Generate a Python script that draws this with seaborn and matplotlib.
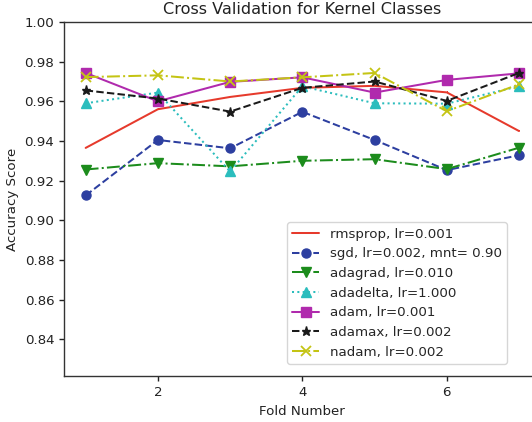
import matplotlib
matplotlib.use("Agg")
import matplotlib.pyplot as plt
import seaborn as sns

folds = [1, 2, 3, 4, 5, 6, 7]
labels = ["rmsprop, lr=0.001", "sgd, lr=0.002, mnt= 0.90", "adagrad, lr=0.010",
          "adadelta, lr=1.000", "adam, lr=0.001", "adamax, lr=0.002", "nadam, lr=0.002"]
rmsprop = [0.9365, 0.9560, 0.9622, 0.9668, 0.9678, 0.9645, 0.9450]
sgd = [0.9125, 0.9405, 0.9363, 0.9547, 0.9405, 0.9253, 0.9328]
adagrad = [0.9256, 0.9288, 0.9272, 0.9300, 0.9308, 0.9258, 0.9366]
adadelta = [0.9590, 0.9644, 0.9246, 0.9676, 0.9590, 0.9588, 0.9676]
adam = [0.9743, 0.9600, 0.9698, 0.9721, 0.9644, 0.9708, 0.9741]
adamax = [0.9655, 0.9614, 0.9548, 0.9668, 0.9700, 0.9602, 0.9743]
nadam = [0.9722, 0.9731, 0.9700, 0.9721, 0.9743, 0.9550, 0.9686]
series = [rmsprop, sgd, adagrad, adadelta, adam, adamax, nadam]

colors = ["#e63a2c", "#2d3fa0", "#1c8c1c", "#2bbdbd", "#b02aad", "#1a1a1a", "#c4c414"]
styles = ["-", "--", "-.", ":", "-", "--", "-."]
markers = [",", "o", "v", "^", "s", "*", "x"]
msizes = [2, 6.5, 6.5, 6.5, 6.5, 6.5, 6.5]

sns.set_style("ticks")
plt.rcParams["font.family"] = ["DejaVu Sans"]

fig = plt.figure(figsize=(5.32, 4.22), dpi=100)
ax = fig.add_axes([64 / 532, 45.7 / 422, 476.7 / 532, 354.3 / 422])

for lab, vals, c, ls, m, ms in zip(labels, series, colors, styles, markers, msizes):
    sns.lineplot(x=folds, y=vals, ax=ax, color=c, linestyle=ls, marker=m,
                 markersize=ms, markeredgecolor=c, markerfacecolor=c,
                 markeredgewidth=1.3 if m == "x" else 1.0, linewidth=1.45, label=lab)

ax.set_xlim(0.7, 7.3)
ax.set_ylim(0.8213, 1.0)
ax.set_xticks([2, 4, 6])
yt = [0.84, 0.86, 0.88, 0.90, 0.92, 0.94, 0.96, 0.98, 1.00]
ax.set_yticks(yt)
ax.set_yticklabels([f"{v:.2f}" for v in yt])
for s in ax.spines.values():
    s.set_color("#333333")
    s.set_linewidth(1.0)
ax.tick_params(colors="#222222", labelsize=9.6, length=3.5, width=1.0)
ax.set_title("Cross Validation for Kernel Classes", fontsize=11.6, color="#222222")
ax.set_xlabel("Fold Number", fontsize=9.6, color="#222222")
ax.set_ylabel("Accuracy Score", fontsize=9.6, color="#222222")
ax.legend(loc="lower right", bbox_to_anchor=(0.929, 0.035), borderaxespad=0,
          fontsize=9.6, frameon=True, framealpha=0.8)

fig.savefig("out.png", dpi=100)
